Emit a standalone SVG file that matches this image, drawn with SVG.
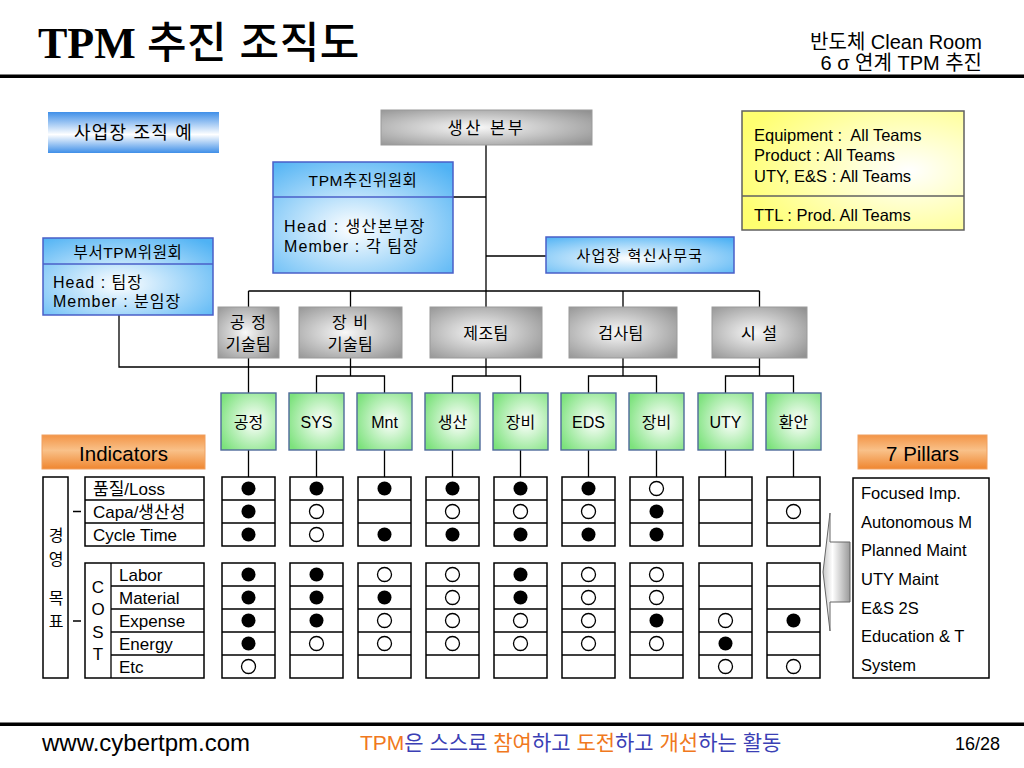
<svg xmlns="http://www.w3.org/2000/svg" xmlns:xlink="http://www.w3.org/1999/xlink" width="1024" height="768" viewBox="0 0 1024 768">
<defs>
<style>
.t{font-family:"Liberation Sans","Noto Sans CJK KR",sans-serif;fill:#000}
.k{font-family:"Liberation Sans","Noto Sans CJK KR",sans-serif}
.c{text-anchor:middle}
.ln{stroke:#000;stroke-width:1.3;fill:none}
.gb{stroke:#000;stroke-width:1.5;fill:#fff}
.blue{stroke:#4a5fc8;stroke-width:1.5}
.gray{stroke:#9a9a9a;stroke-width:1}
.green{stroke:#4f6a9a;stroke-width:1.4;fill:url(#gGreen)}
.f{fill:#000}
.o{fill:#fff;stroke:#000;stroke-width:1.3}
</style>
<linearGradient id="gBlueV" x1="0" y1="0" x2="0" y2="1">
<stop offset="0" stop-color="#3f8fe8"/><stop offset="0.55" stop-color="#ffffff"/><stop offset="1" stop-color="#3f8fe8"/>
</linearGradient>
<radialGradient id="gBlueR" cx="0.45" cy="0.6" r="0.75">
<stop offset="0" stop-color="#ffffff"/><stop offset="1" stop-color="#4fb2f4"/>
</radialGradient>
<radialGradient id="gGray" cx="0.45" cy="0.5" r="0.7">
<stop offset="0" stop-color="#f8f8f8"/><stop offset="1" stop-color="#929292"/>
</radialGradient>
<radialGradient id="gGreen" cx="0.6" cy="0.5" r="0.7">
<stop offset="0" stop-color="#ffffff"/><stop offset="1" stop-color="#7ce27c"/>
</radialGradient>
<radialGradient id="gYellow" cx="0.75" cy="0.5" r="0.8">
<stop offset="0" stop-color="#ffffff"/><stop offset="1" stop-color="#ffff70"/>
</radialGradient>
<linearGradient id="gOrange" x1="0" y1="0" x2="0" y2="1">
<stop offset="0" stop-color="#f39446"/><stop offset="0.45" stop-color="#f9c189"/><stop offset="1" stop-color="#ef8630"/>
</linearGradient>
<linearGradient id="gArrow" x1="0" y1="0" x2="1" y2="0">
<stop offset="0" stop-color="#c8c8c8"/><stop offset="0.35" stop-color="#ffffff"/><stop offset="1" stop-color="#9a9a9a"/>
</linearGradient>
<g id="gridcol">
<rect class="gb" x="0" y="477" width="53" height="69"/>
<path class="ln" d="M0 500H53M0 523H53" stroke-width="1.5"/>
<rect class="gb" x="0" y="563" width="53" height="115"/>
<path class="ln" d="M0 586H53M0 609H53M0 632H53M0 655H53" stroke-width="1.5"/>
</g>
</defs>
<rect width="1024" height="768" fill="#fff"/>

<g id="header">
<text x="38" y="58"><tspan font-family="Liberation Serif" font-weight="bold" font-size="44">TPM</tspan><tspan x="147" class="k" font-size="43" font-weight="500" letter-spacing="0.5">추진 조직도</tspan></text>
<text class="t" x="982" y="49" font-size="20" text-anchor="end">반도체 Clean Room</text>
<text class="t" x="982" y="70" font-size="20" text-anchor="end">6 σ 연계 TPM 추진</text>
<rect x="0" y="74.5" width="1024" height="3.5" fill="#000"/>
</g>

<g id="connectors">
<path class="ln" d="M486 145V307M453 197H486M486 256H546"/>
<path class="ln" d="M248.5 291H759.5M248.5 291V307M350.5 291V307M623 291V307M759.5 291V307"/>
<path class="ln" d="M119 315V367H759.5"/>
<path class="ln" d="M248.5 358V393M350.5 358V376M486 358V376M623 358V376M759.5 358V376"/>
<path class="ln" d="M316.5 393V376H384.5V393M452.5 393V376H520.5V393M588.5 393V376H656.5V393M725.5 393V376H793.5V393"/>
<path class="ln" d="M248.5 450V477M316.5 450V477M384.5 450V477M452.5 450V477M520.5 450V477M588.5 450V477M656.5 450V477M725.5 450V477M793.5 450V477"/>
</g>

<g id="n-site">
<rect x="48" y="112" width="171" height="41" fill="url(#gBlueV)"/>
<text class="t c" x="133.5" y="139" font-size="18" letter-spacing="1.2">사업장 조직 예</text>
</g>

<g id="n-hq">
<rect class="gray" x="381" y="110" width="211" height="35" fill="url(#gGray)"/>
<text class="t c" x="486.5" y="134" font-size="16.5" letter-spacing="2.5">생산 본부</text>
</g>

<g id="n-tpmcom">
<rect class="blue" x="273" y="162" width="180" height="111" fill="url(#gBlueR)"/>
<line class="blue" x1="273" y1="197" x2="453" y2="197"/>
<text class="t c" x="363" y="186" font-size="15.5" letter-spacing="0.6">TPM추진위원회</text>
<text class="t" x="284" y="232" font-size="16" letter-spacing="1.4">Head : 생산본부장</text>
<text class="t" x="284" y="252" font-size="16" letter-spacing="1.1">Member : 각 팀장</text>
</g>

<g id="n-deptcom">
<rect class="blue" x="43" y="238" width="170" height="77" fill="url(#gBlueR)"/>
<line class="blue" x1="43" y1="264" x2="213" y2="264"/>
<text class="t c" x="128" y="258" font-size="15.5" letter-spacing="0.6">부서TPM위원회</text>
<text class="t" x="53" y="288" font-size="16" letter-spacing="1">Head : 팀장</text>
<text class="t" x="53" y="307" font-size="16" letter-spacing="1">Member : 분임장</text>
</g>

<g id="n-office">
<rect class="blue" x="546" y="237" width="188" height="36" fill="url(#gBlueR)"/>
<text class="t c" x="640" y="261" font-size="15" letter-spacing="1.4">사업장 혁신사무국</text>
</g>

<g id="n-legend">
<rect x="742" y="111" width="222" height="119" fill="url(#gYellow)" stroke="#606060" stroke-width="1.5"/>
<line x1="742" y1="196" x2="964" y2="196" stroke="#606060" stroke-width="1.5"/>
<text class="t" x="754" y="141" font-size="16.5">Equipment :&#160; All Teams</text>
<text class="t" x="754" y="161" font-size="16.5">Product : All Teams</text>
<text class="t" x="754" y="182" font-size="16.5">UTY, E&amp;S : All Teams</text>
<text class="t" x="754" y="221" font-size="16.5">TTL : Prod. All Teams</text>
</g>

<g id="team-process">
<rect class="gray" x="218" y="307" width="61" height="51" fill="url(#gGray)"/>
<text class="t c" x="248.5" y="328" font-size="16" letter-spacing="1">공 정</text>
<text class="t c" x="248.5" y="350" font-size="16" letter-spacing="0.5">기술팀</text>
</g>
<g id="team-equip">
<rect class="gray" x="299" y="307" width="103" height="51" fill="url(#gGray)"/>
<text class="t c" x="350.5" y="328" font-size="16" letter-spacing="1">장 비</text>
<text class="t c" x="350.5" y="350" font-size="16" letter-spacing="0.5">기술팀</text>
</g>
<g id="team-mfg">
<rect class="gray" x="430" y="307" width="112" height="51" fill="url(#gGray)"/>
<text class="t c" x="486" y="339" font-size="16" letter-spacing="0.5">제조팀</text>
</g>
<g id="team-insp">
<rect class="gray" x="569" y="307" width="108" height="51" fill="url(#gGray)"/>
<text class="t c" x="621" y="339" font-size="16" letter-spacing="0.5">검사팀</text>
</g>
<g id="team-facility">
<rect class="gray" x="712" y="307" width="95" height="51" fill="url(#gGray)"/>
<text class="t c" x="759.5" y="339" font-size="16" letter-spacing="1">시 설</text>
</g>

<g id="sub-1"><rect class="green" x="221" y="393" width="55" height="57"/><text class="t c" x="248.5" y="428" font-size="16">공정</text></g>
<g id="sub-2"><rect class="green" x="289" y="393" width="55" height="57"/><text class="t c" x="316.5" y="428" font-size="16">SYS</text></g>
<g id="sub-3"><rect class="green" x="357" y="393" width="55" height="57"/><text class="t c" x="384.5" y="428" font-size="16">Mnt</text></g>
<g id="sub-4"><rect class="green" x="425" y="393" width="55" height="57"/><text class="t c" x="452.5" y="428" font-size="16">생산</text></g>
<g id="sub-5"><rect class="green" x="493" y="393" width="55" height="57"/><text class="t c" x="520.5" y="428" font-size="16">장비</text></g>
<g id="sub-6"><rect class="green" x="561" y="393" width="55" height="57"/><text class="t c" x="588.5" y="428" font-size="16">EDS</text></g>
<g id="sub-7"><rect class="green" x="629" y="393" width="55" height="57"/><text class="t c" x="656.5" y="428" font-size="16">장비</text></g>
<g id="sub-8"><rect class="green" x="698" y="393" width="55" height="57"/><text class="t c" x="725.5" y="428" font-size="16">UTY</text></g>
<g id="sub-9"><rect class="green" x="766" y="393" width="55" height="57"/><text class="t c" x="793.5" y="428" font-size="16">환안</text></g>

<g id="indicators">
<rect x="42" y="435" width="163" height="34" fill="url(#gOrange)" stroke="#f0a060" stroke-width="1"/>
<text class="t c" x="123.5" y="461" font-size="20.5">Indicators</text>
</g>

<g id="pillars-title">
<rect x="858" y="435" width="129" height="34" fill="url(#gOrange)" stroke="#f0a060" stroke-width="1"/>
<text class="t c" x="922.5" y="461" font-size="20.5">7 Pillars</text>
</g>

<g id="labels">
<rect class="gb" x="43" y="477" width="25" height="201"/>
<text class="t c" x="56" y="541" font-size="16">경</text>
<text class="t c" x="56" y="565" font-size="16">영</text>
<text class="t c" x="56" y="604" font-size="16">목</text>
<text class="t c" x="56" y="627" font-size="16">표</text>
<path class="ln" d="M73 511.5H81M73 621H81" stroke-width="1.5"/>
<rect class="gb" x="85" y="477" width="119" height="69"/>
<path class="ln" d="M85 500H204M85 523H204" stroke-width="1.5"/>
<text class="t" x="93" y="495" font-size="17">품질/Loss</text>
<text class="t" x="93" y="518" font-size="17">Capa/생산성</text>
<text class="t" x="93" y="541" font-size="17">Cycle Time</text>
<rect class="gb" x="85" y="563" width="119" height="115"/>
<path class="ln" d="M111 563V678M111 586H204M111 609H204M111 632H204M111 655H204" stroke-width="1.5"/>
<text class="t c" x="98" y="593" font-size="17">C</text>
<text class="t c" x="98" y="615" font-size="17">O</text>
<text class="t c" x="98" y="638" font-size="17">S</text>
<text class="t c" x="98" y="660" font-size="17">T</text>
<text class="t" x="119" y="581" font-size="17">Labor</text>
<text class="t" x="119" y="604" font-size="17">Material</text>
<text class="t" x="119" y="627" font-size="17">Expense</text>
<text class="t" x="119" y="650" font-size="17">Energy</text>
<text class="t" x="119" y="673" font-size="17">Etc</text>
</g>

<g id="matrix">
<use xlink:href="#gridcol" x="222"/>
<use xlink:href="#gridcol" x="290"/>
<use xlink:href="#gridcol" x="358"/>
<use xlink:href="#gridcol" x="426"/>
<use xlink:href="#gridcol" x="494"/>
<use xlink:href="#gridcol" x="562"/>
<use xlink:href="#gridcol" x="630"/>
<use xlink:href="#gridcol" x="699"/>
<use xlink:href="#gridcol" x="767"/>
<g id="marks">
<circle class="f" cx="248.5" cy="488.5" r="7"/><circle class="f" cx="248.5" cy="511.5" r="7"/><circle class="f" cx="248.5" cy="534.5" r="7"/><circle class="f" cx="248.5" cy="574.5" r="7"/><circle class="f" cx="248.5" cy="597.5" r="7"/><circle class="f" cx="248.5" cy="620.5" r="7"/><circle class="f" cx="248.5" cy="643.5" r="7"/><circle class="o" cx="248.5" cy="666.5" r="7"/>
<circle class="f" cx="316.5" cy="488.5" r="7"/><circle class="o" cx="316.5" cy="511.5" r="7"/><circle class="o" cx="316.5" cy="534.5" r="7"/><circle class="f" cx="316.5" cy="574.5" r="7"/><circle class="f" cx="316.5" cy="597.5" r="7"/><circle class="f" cx="316.5" cy="620.5" r="7"/><circle class="o" cx="316.5" cy="643.5" r="7"/>
<circle class="f" cx="384.5" cy="488.5" r="7"/><circle class="f" cx="384.5" cy="534.5" r="7"/><circle class="o" cx="384.5" cy="574.5" r="7"/><circle class="f" cx="384.5" cy="597.5" r="7"/><circle class="o" cx="384.5" cy="620.5" r="7"/><circle class="o" cx="384.5" cy="643.5" r="7"/>
<circle class="f" cx="452.5" cy="488.5" r="7"/><circle class="o" cx="452.5" cy="511.5" r="7"/><circle class="f" cx="452.5" cy="534.5" r="7"/><circle class="o" cx="452.5" cy="574.5" r="7"/><circle class="o" cx="452.5" cy="597.5" r="7"/><circle class="o" cx="452.5" cy="620.5" r="7"/><circle class="o" cx="452.5" cy="643.5" r="7"/>
<circle class="f" cx="520.5" cy="488.5" r="7"/><circle class="o" cx="520.5" cy="511.5" r="7"/><circle class="f" cx="520.5" cy="534.5" r="7"/><circle class="f" cx="520.5" cy="574.5" r="7"/><circle class="f" cx="520.5" cy="597.5" r="7"/><circle class="o" cx="520.5" cy="620.5" r="7"/><circle class="o" cx="520.5" cy="643.5" r="7"/>
<circle class="f" cx="588.5" cy="488.5" r="7"/><circle class="o" cx="588.5" cy="511.5" r="7"/><circle class="f" cx="588.5" cy="534.5" r="7"/><circle class="o" cx="588.5" cy="574.5" r="7"/><circle class="o" cx="588.5" cy="597.5" r="7"/><circle class="o" cx="588.5" cy="620.5" r="7"/><circle class="o" cx="588.5" cy="643.5" r="7"/>
<circle class="o" cx="656.5" cy="488.5" r="7"/><circle class="f" cx="656.5" cy="511.5" r="7"/><circle class="f" cx="656.5" cy="534.5" r="7"/><circle class="o" cx="656.5" cy="574.5" r="7"/><circle class="o" cx="656.5" cy="597.5" r="7"/><circle class="f" cx="656.5" cy="620.5" r="7"/><circle class="o" cx="656.5" cy="643.5" r="7"/>
<circle class="o" cx="725.5" cy="620.5" r="7"/><circle class="f" cx="725.5" cy="643.5" r="7"/><circle class="o" cx="725.5" cy="666.5" r="7"/>
<circle class="o" cx="793.5" cy="511.5" r="7"/><circle class="f" cx="793.5" cy="620.5" r="7"/><circle class="o" cx="793.5" cy="666.5" r="7"/>
</g>
</g>

<g id="arrow">
<polygon points="850,542 830,542 830,513 823,572 830,631 830,602 850,602" fill="url(#gArrow)" stroke="#666" stroke-width="1"/>
</g>

<g id="pillars">
<rect class="gb" x="853" y="478" width="136" height="200"/>
<text class="t" x="861" y="499" font-size="16.5">Focused Imp.</text>
<text class="t" x="861" y="528" font-size="16.5">Autonomous M</text>
<text class="t" x="861" y="556" font-size="16.5">Planned Maint</text>
<text class="t" x="861" y="585" font-size="16.5">UTY Maint</text>
<text class="t" x="861" y="614" font-size="16.5">E&amp;S 2S</text>
<text class="t" x="861" y="642" font-size="16.5">Education &amp; T</text>
<text class="t" x="861" y="671" font-size="16.5">System</text>
</g>

<g id="footer">
<rect x="0" y="722.5" width="1024" height="3.5" fill="#000"/>
<text class="t" x="42" y="751" font-size="24">www.cybertpm.com</text>
<text class="k" x="360" y="750" font-size="21"><tspan fill="#f07820">TPM</tspan><tspan fill="#3b3fb5">은 스스로 </tspan><tspan fill="#f07820">참여</tspan><tspan fill="#3b3fb5">하고 </tspan><tspan fill="#f07820">도전</tspan><tspan fill="#3b3fb5">하고 </tspan><tspan fill="#f07820">개선</tspan><tspan fill="#3b3fb5">하는 활동</tspan></text>
<text class="t" x="1000" y="750" font-size="18" text-anchor="end">16/28</text>
</g>
</svg>
